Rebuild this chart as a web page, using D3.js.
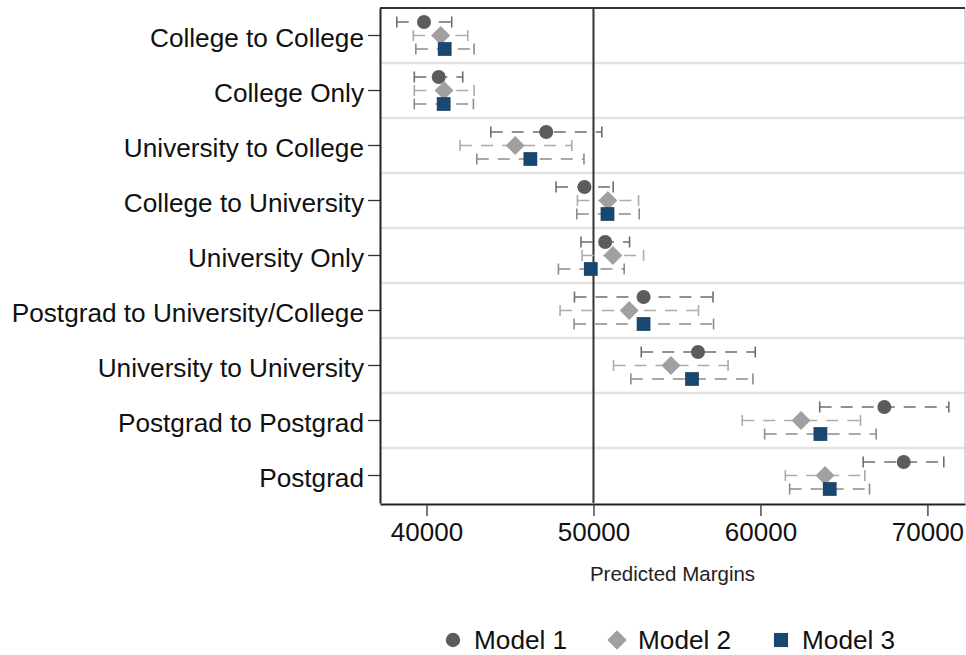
<!DOCTYPE html>
<html>
<head>
<meta charset="utf-8">
<script src="https://cdn.jsdelivr.net/npm/d3@7"></script>
<style>
  html, body { margin: 0; padding: 0; background: #fff; }
  svg { display: block; font-family: "Liberation Sans", Arial, Helvetica, sans-serif; }
</style>
</head>
<body>
<svg id="chart" width="966" height="655"></svg>
<script>
// Education pathways (top to bottom)
const categories = [
  "College to College",
  "College Only",
  "University to College",
  "College to University",
  "University Only",
  "Postgrad to University/College",
  "University to University",
  "Postgrad to Postgrad",
  "Postgrad"
];

const models = ["Model 1", "Model 2", "Model 3"];

// Predicted margins and 95% confidence bounds per model
const model1 = [39850, 40730, 47170, 49460, 50700, 53000, 56260, 67420, 68580];
const model1Lo = [38220, 39270, 43850, 47760, 49250, 48860, 52860, 63550, 66150];
const model1Hi = [41510, 42170, 50500, 51180, 52160, 57160, 59690, 71280, 70980];

const model2 = [40850, 41050, 45310, 50860, 51160, 52140, 54640, 62430, 63870];
const model2Lo = [39210, 39270, 42010, 49040, 49320, 48000, 51200, 58910, 61490];
const model2Hi = [42470, 42850, 48700, 52700, 53000, 56290, 58060, 65990, 66250];

const model3 = [41090, 41030, 46220, 50840, 49840, 53000, 55900, 63590, 64150];
const model3Lo = [39360, 39270, 43010, 49000, 47900, 48840, 52240, 60250, 61750];
const model3Hi = [42850, 42810, 49430, 52740, 51840, 57190, 59550, 66930, 66530];

const xTicks = [40000, 50000, 60000, 70000];
const referenceValue = 50000;

const seriesValues = [model1, model2, model3];
const seriesLo = [model1Lo, model2Lo, model3Lo];
const seriesHi = [model1Hi, model2Hi, model3Hi];

const markerFill = ["#5c5c5c", "#a0a0a0", "#1a476f"];
const ciColor = ["#6e6e6e", "#ababab", "#8c8c8c"];
// circle, diamond (square turned 45 degrees), square
const markerShape = [d3.symbolCircle, d3.symbolSquare, d3.symbolSquare];
const markerRotate = [0, 45, 0];
const markerArea = [154, 180, 190];

const svg = d3.select("#chart");
const plot = { left: 380, right: 965, top: 8, bottom: 503 };

const x = d3.scaleLinear().domain([37215, 72250]).range([plot.left, plot.right]);
const y = d3.scaleBand().domain(categories).range([plot.top, plot.bottom]).padding(0);
const offset = d3.scalePoint().domain(models).range([-13.5, 13.5]);

// Row separators
svg.append("g")
  .selectAll("line")
  .data(categories.slice(1))
  .join("line")
  .attr("x1", plot.left).attr("x2", plot.right)
  .attr("y1", d => y(d)).attr("y2", d => y(d))
  .attr("stroke", "#e3e3e3").attr("stroke-width", 2.5);

// Frame: light right edge, dark top edge
svg.append("line")
  .attr("x1", plot.right).attr("x2", plot.right)
  .attr("y1", plot.top).attr("y2", plot.bottom)
  .attr("stroke", "#b0b0b0").attr("stroke-width", 1);
svg.append("line")
  .attr("x1", plot.left).attr("x2", plot.right)
  .attr("y1", plot.top).attr("y2", plot.top)
  .attr("stroke", "#333").attr("stroke-width", 2);

// Reference line
svg.append("line")
  .attr("x1", x(referenceValue)).attr("x2", x(referenceValue))
  .attr("y1", plot.top).attr("y2", plot.bottom)
  .attr("stroke", "#333").attr("stroke-width", 2);

// X axis
const xAxis = svg.append("g")
  .attr("transform", `translate(0,${plot.bottom + 1})`)
  .call(d3.axisBottom(x).tickValues(xTicks).tickFormat(d3.format("d"))
    .tickSizeInner(12).tickSizeOuter(0).tickPadding(7));
xAxis.select(".domain").attr("stroke", "#222").attr("stroke-width", 2);
xAxis.selectAll(".tick line").attr("stroke", "#333").attr("stroke-width", 1.3);
xAxis.selectAll(".tick text")
  .attr("font-size", 26).attr("fill", "#111").attr("font-family", "Liberation Sans, Arial, sans-serif");

// Y axis
const yAxis = svg.append("g")
  .attr("transform", `translate(${plot.left},0)`)
  .call(d3.axisLeft(y).tickSizeInner(12).tickSizeOuter(0).tickPadding(4));
yAxis.select(".domain").attr("stroke", "#222").attr("stroke-width", 2);
yAxis.selectAll(".tick line").attr("stroke", "#333").attr("stroke-width", 1.3);
yAxis.selectAll(".tick text")
  .attr("font-size", 26.2).attr("fill", "#111").attr("dy", "0.45em")
  .attr("font-family", "Liberation Sans, Arial, sans-serif");

// Axis title
svg.append("text")
  .attr("x", (plot.left + plot.right) / 2).attr("y", 581)
  .attr("text-anchor", "middle").attr("font-size", 20.5).attr("fill", "#222")
  .text("Predicted Margins");

// Confidence intervals and point estimates
models.forEach((m, k) => {
  const g = svg.append("g");
  const rows = categories.map((c, i) => ({
    c, v: seriesValues[k][i], lo: seriesLo[k][i], hi: seriesHi[k][i],
    yy: y(c) + y.bandwidth() / 2 + offset(m)
  }));
  g.selectAll("line.ci")
    .data(rows).join("line").attr("class", "ci")
    .attr("x1", d => x(d.lo)).attr("x2", d => x(d.hi))
    .attr("y1", d => d.yy).attr("y2", d => d.yy)
    .attr("stroke", ciColor[k]).attr("stroke-width", 1.6)
    .attr("stroke-dasharray", "12,9");
  ["lo", "hi"].forEach(side => {
    g.selectAll("line.cap-" + side)
      .data(rows).join("line").attr("class", "cap-" + side)
      .attr("x1", d => x(d[side])).attr("x2", d => x(d[side]))
      .attr("y1", d => d.yy - 5.5).attr("y2", d => d.yy + 5.5)
      .attr("stroke", ciColor[k]).attr("stroke-width", 1.6);
  });
  g.selectAll("path.pt")
    .data(rows).join("path").attr("class", "pt")
    .attr("transform", d => `translate(${x(d.v)},${d.yy}) rotate(${markerRotate[k]})`)
    .attr("d", d3.symbol().type(markerShape[k]).size(markerArea[k]))
    .attr("fill", markerFill[k]);
});

// Legend
const legendX = [453, 617, 781];
models.forEach((m, k) => {
  svg.append("path")
    .attr("transform", `translate(${legendX[k]},640) rotate(${markerRotate[k]})`)
    .attr("d", d3.symbol().type(markerShape[k]).size(markerArea[k] * 1.05))
    .attr("fill", markerFill[k]);
  svg.append("text")
    .attr("x", legendX[k] + 21).attr("y", 649)
    .attr("font-size", 26.2).attr("fill", "#111")
    .text(m);
});
</script>
</body>
</html>
